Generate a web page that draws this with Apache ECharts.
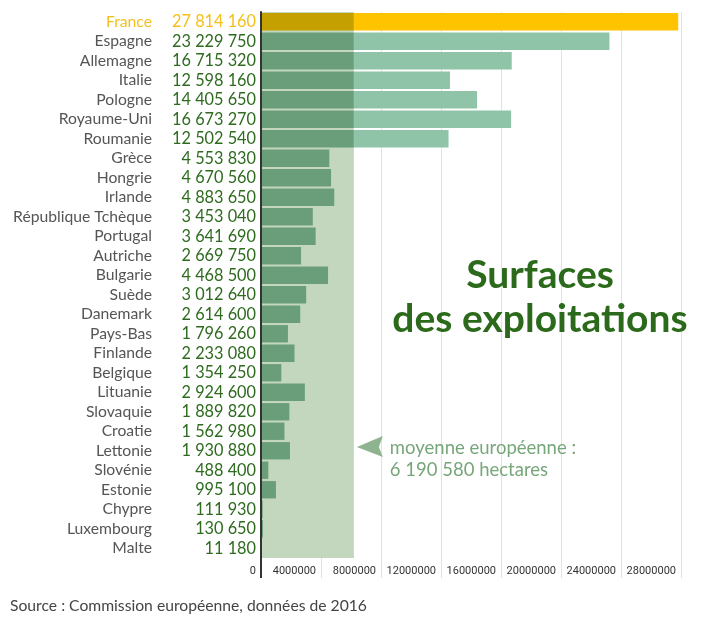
<!DOCTYPE html>
<html><head><meta charset="utf-8">
<script src="https://cdn.jsdelivr.net/npm/echarts@6/dist/echarts.min.js"></script>
<style>html,body{margin:0;padding:0;background:#fff}#c{width:720px;height:629px}</style>
</head><body><div id="c"></div>
<script>
const countries = ['France','Espagne','Allemagne','Italie','Pologne','Royaume-Uni','Roumanie','Grèce','Hongrie','Irlande','République Tchèque','Portugal','Autriche','Bulgarie','Suède','Danemark','Pays-Bas','Finlande','Belgique','Lituanie','Slovaquie','Croatie','Lettonie','Slovénie','Estonie','Chypre','Luxembourg','Malte'];
const surfaces = [27814160,23229750,16715320,12598160,14405650,16673270,12502540,4553830,4670560,4883650,3453040,3641690,2669750,4468500,3012640,2614600,1796260,2233080,1354250,2924600,1889820,1562980,1930880,488400,995100,111930,130650,11180];
const europeanAverage = 6190580;
const xMin = 0, xMax = 28000000, xStep = 4000000;
const titleText = 'Surfaces\ndes exploitations';
const noteText = 'moyenne européenne :\n6 190 580 hectares';
const sourceText = 'Source : Commission européenne, données de 2016';

const FONT = 'Lato';
const fmt = v => String(v).replace(/\B(?=(\d{3})+(?!\d))/g, ' ');
const inside = surfaces.map((v, i) => ({value: Math.min(v, europeanAverage), itemStyle: {color: i === 0 ? '#c4a100' : '#6a9e7a'}}));
const outside = surfaces.map((v, i) => ({value: Math.max(v - europeanAverage, 0), itemStyle: {color: i === 0 ? '#ffc300' : '#8fc4a8'}}));

const chart = echarts.init(document.getElementById('c'));
const option = {
  animation: false,
  backgroundColor: '#fff',
  title: {
    text: titleText, left: 535, top: 248, textAlign: 'center',
    textStyle: {fontFamily: FONT, fontWeight: 'bold', fontSize: 39, lineHeight: 44, color: '#2b6a1a'}
  },
  grid: {left: 261, right: 39, top: 12, bottom: 71, containLabel: false},
  xAxis: {
    type: 'value', min: xMin, max: xMax, interval: xStep, position: 'bottom',
    axisLine: {show: false},
    axisTick: {show: true, length: 20, lineStyle: {color: '#e2e2e2'}},
    splitLine: {show: true, lineStyle: {color: '#e2e2e2'}},
    axisLabel: {color: '#333', fontFamily: 'Roboto', fontSize: 11, align: 'right', padding: [0, 5, 0, 0], margin: 8, formatter: v => String(v)}
  },
  yAxis: {
    type: 'category', data: countries, inverse: true, z: 10,
    axisLine: {show: true, lineStyle: {color: '#333', width: 2}},
    axisTick: {show: false},
    axisLabel: {
      margin: 5,
      formatter: (val, idx) => idx === 0 ? `{nf|${val}}{vf|${fmt(surfaces[idx])}}` : `{n|${val}}{v|${fmt(surfaces[idx])}}`,
      rich: {
        n: {width: 150, align: 'right', color: '#555', fontFamily: FONT, fontSize: 15.7},
        v: {width: 104, align: 'right', color: '#2e6b1f', fontFamily: FONT, fontSize: 16.3},
        nf: {width: 150, align: 'right', color: '#f5bf1a', fontFamily: FONT, fontSize: 15.7},
        vf: {width: 104, align: 'right', color: '#f5bf1a', fontFamily: FONT, fontSize: 16.3}
      }
    }
  },
  series: [
    {type: 'bar', stack: 's', data: inside, barCategoryGap: '11%', z: 3,
     markArea: {silent: true, itemStyle: {color: '#c2d7bd'}, data: [[{xAxis: 0}, {xAxis: europeanAverage}]]}},
    {type: 'bar', stack: 's', data: outside, z: 3}
  ]
};
chart.setOption(option);

const ax = chart.convertToPixel({xAxisIndex: 0}, 0);
const avgPx = chart.convertToPixel({xAxisIndex: 0}, europeanAverage);
const gridBottom = 629 - 71;
const tipX = avgPx + 3, tipY = 447;
chart.setOption({
  graphic: [
    {type: 'line', shape: {x1: ax, y1: gridBottom - 1, x2: ax, y2: gridBottom + 20}, style: {stroke: '#333', lineWidth: 2}, z: 20},
    {type: 'polygon', shape: {points: [[tipX, tipY], [tipX + 26, tipY - 11], [tipX + 22, tipY], [tipX + 26, tipY + 10]]}, style: {fill: '#8db38f'}, z: 20},
    {type: 'text', left: tipX + 33, top: 437, style: {text: noteText, fontFamily: FONT, fontSize: 18.5, lineHeight: 22, fill: '#78a67b'}, z: 20},
    {type: 'text', left: 10, top: 598, style: {text: sourceText, fontFamily: FONT, fontSize: 15.7, fill: '#444'}, z: 20}
  ]
});
</script></body></html>
